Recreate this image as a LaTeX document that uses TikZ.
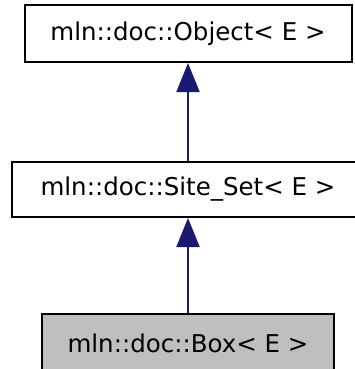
\documentclass[tikz,border=0pt]{standalone}
\usepackage{fontspec}
\setmainfont{DejaVu Sans}
\usetikzlibrary{arrows.meta}
\definecolor{edgeblue}{RGB}{25,25,112}
\definecolor{fillgray}{RGB}{191,191,191}
\begin{document}
\begin{tikzpicture}[x=1pt,y=1pt,
  cls/.style={draw=black, line width=2pt, inner sep=0pt, align=center,
    font=\fontsize{24.5}{29}\selectfont},
  edge/.style={draw=edgeblue, line width=2pt,
    -{Triangle[length=29pt,width=23pt]}}]
\useasboundingbox (0,0) rectangle (355,-369);
\clip (0,0) rectangle (355,-369);
\node[cls, minimum width=327pt, minimum height=57pt] (obj) at (188,-33.5) {mln::doc::Object< E >};
\node[cls, minimum width=352pt, minimum height=55pt] (set) at (188,-189.5) {mln::doc::Site\_Set< E >};
\node[cls, fill=fillgray, minimum width=292pt, minimum height=58pt] (box) at (188,-343) {mln::doc::Box< E >};
\draw[edge] (set.north) -- (obj.south);
\draw[edge] (box.north) -- (set.south);
\end{tikzpicture}
\end{document}
